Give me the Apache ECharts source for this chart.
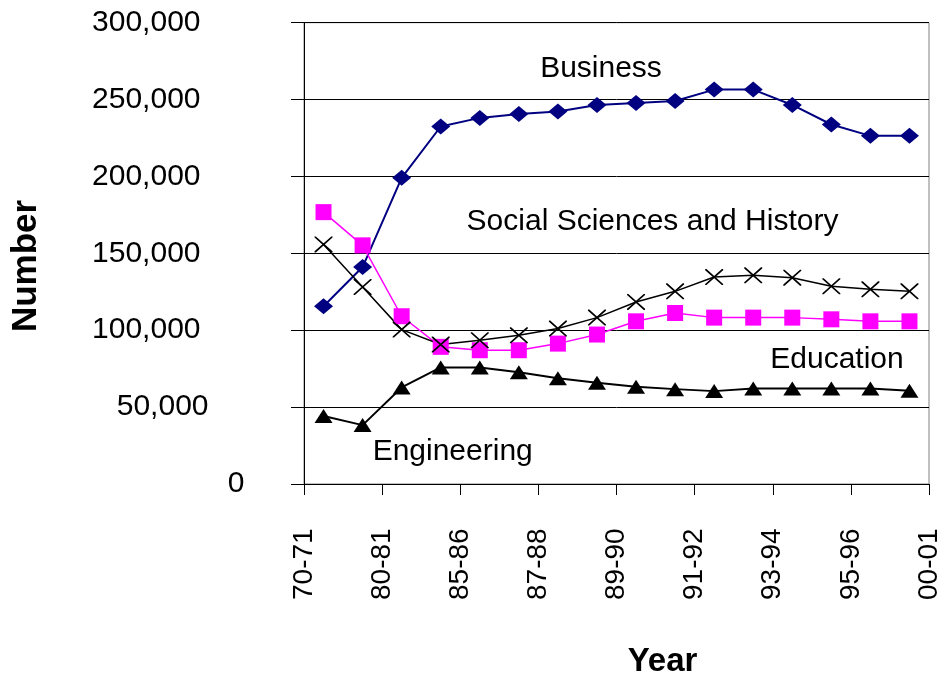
<!DOCTYPE html>
<html><head><meta charset="utf-8">
<script src="https://cdn.jsdelivr.net/npm/echarts@6.0.0/dist/echarts.min.js"></script>
<style>html,body{margin:0;padding:0;background:#fff}#c{width:945px;height:675px}</style>
</head><body><div id="c"></div>
<script>
const tickLabels = ['70-71','80-81','85-86','87-88','89-90','91-92','93-94','95-96','00-01'];
const business = [115600, 141100, 199100, 232500, 238100, 240700, 242200, 246500, 247800, 249100, 256500, 256500, 246500, 233800, 226400, 226400];
const education = [176800, 155200, 109100, 89200, 87000, 87000, 91300, 97200, 105800, 111200, 108200, 108200, 108200, 107100, 105800, 105800];
const socialSciences = [155800, 128100, 100400, 90700, 93500, 96700, 101100, 108200, 118400, 125300, 134600, 135700, 134200, 128600, 126600, 125300];
const engineering = [44200, 38300, 62800, 75800, 75800, 72700, 68800, 65800, 63200, 61700, 60400, 62100, 62100, 62100, 62100, 60600];

const font = "'Liberation Sans', Arial, sans-serif";
const toPts = arr => arr.map((v, i) => [i + 0.5, v]);
const xMark = 'path://M0,0L1.3,0L18,14.9L18,16L16.7,16L0,1.1Z M16.7,0L18,0L18,1.1L1.3,16L0,16L0,14.9Z';
const lblStyle = pad => ({fontSize: 30, fontFamily: font, color: '#000', padding: [0, pad, 0, 0]});
const txt = (x, y, text, f, extra) => Object.assign({type: 'text', x: x, y: y,
  style: {text: text, font: f, fill: '#000', align: 'center', verticalAlign: 'middle', textAlign: 'center', textVerticalAlign: 'middle'}}, extra || {});

const chart = echarts.init(document.getElementById('c'), null, {renderer: 'canvas'});
chart.setOption({
  animation: false,
  grid: {left: 304, right: 16, top: 22.7, bottom: 191, show: true, borderColor: '#808080', borderWidth: 1},
  xAxis: {
    type: 'value', min: 0, max: 16, interval: 2,
    axisLine: {show: true, onZero: false, lineStyle: {color: '#000', width: 1}},
    axisTick: {show: true, length: 11, lineStyle: {color: '#000'}},
    splitLine: {show: false},
    axisLabel: {
      rotate: 90, align: 'left', verticalAlign: 'middle', margin: 116,
      fontSize: 28, fontFamily: font, color: '#000',
      formatter: v => tickLabels[Math.round(v / 2)]
    }
  },
  yAxis: {
    type: 'value', min: 0, max: 300000, interval: 50000,
    axisLine: {show: true, lineStyle: {color: '#000', width: 1}},
    axisTick: {show: true, length: 13, lineStyle: {color: '#000'}},
    splitLine: {show: true, lineStyle: {color: '#000', width: 1}},
    axisLabel: {
      margin: 51.5, fontSize: 30, fontFamily: font, color: '#000',
      formatter: v => { const s = v.toLocaleString('en-US'); return '{p' + s.length + '|' + s + '}'; },
      rich: {p7: lblStyle(52), p6: lblStyle(44), p1: lblStyle(8)}
    }
  },
  series: [
    {name: 'Business', type: 'line', data: toPts(business), symbol: 'diamond', symbolSize: [19, 16], showAllSymbol: true,
     itemStyle: {color: '#000080'}, lineStyle: {color: '#000080', width: 2}},
    {name: 'Education', type: 'line', data: toPts(education), symbol: 'rect', symbolSize: 16, showAllSymbol: true,
     itemStyle: {color: '#FF00FF'}, lineStyle: {color: '#FF00FF', width: 1.5}},
    {name: 'Social Sciences and History', type: 'line', data: toPts(socialSciences), symbol: xMark, symbolSize: [18, 16], showAllSymbol: true,
     itemStyle: {color: '#000'}, lineStyle: {color: '#000', width: 1.5}},
    {name: 'Engineering', type: 'line', data: toPts(engineering), symbol: 'triangle', symbolSize: [18, 14], showAllSymbol: true,
     itemStyle: {color: '#000'}, lineStyle: {color: '#000', width: 2}}
  ],
  graphic: [
    txt(601, 69, 'Business', '30px ' + font),
    txt(652.5, 222, 'Social Sciences and History', '30px ' + font),
    txt(837, 360, 'Education', '30px ' + font),
    txt(452.7, 452, 'Engineering', '30px ' + font),
    txt(662.5, 661.5, 'Year', 'bold 33px ' + font),
    txt(26.5, 266, 'Number', 'bold 35px ' + font, {rotation: Math.PI / 2})
  ]
});
</script>
</body></html>
